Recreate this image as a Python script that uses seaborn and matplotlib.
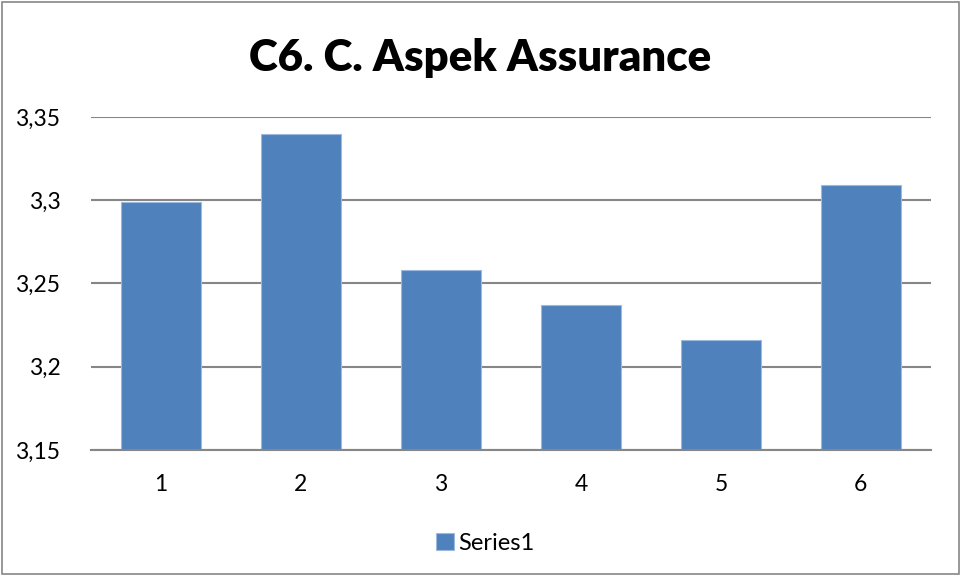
import matplotlib.pyplot as plt
import seaborn as sns
import pandas as pd
from matplotlib.ticker import FuncFormatter, MultipleLocator
from matplotlib.patches import Rectangle

categories = ['1', '2', '3', '4', '5', '6']
values = [3.299, 3.340, 3.258, 3.237, 3.216, 3.309]
series_name = 'Series1'
title = 'C6. C. Aspek Assurance'

sns.set_theme(style="white")
plt.rcParams['font.family'] = ['Lato', 'DejaVu Sans']
plt.rcParams['text.color'] = 'black'

df = pd.DataFrame({'Kategori': categories, 'Nilai': values})

fig = plt.figure(figsize=(9.61, 5.76), dpi=100)
ax = fig.add_axes([0.0947, 0.2188, 0.874, 0.5782])

sns.barplot(
    data=df, x='Kategori', y='Nilai', ax=ax,
    color='#4F81BD', saturation=1, width=0.57,
    edgecolor='#9DB9DD', linewidth=0.8, label=series_name
)

ax.set_ylim(3.15, 3.35)
ax.yaxis.set_major_locator(MultipleLocator(0.05))
ax.yaxis.set_major_formatter(FuncFormatter(lambda v, p: f'{v:g}'.replace('.', ',')))
ax.grid(axis='y', color='#868686', linewidth=1.5)
ax.set_axisbelow(True)
for side in ['left', 'right', 'top']:
    ax.spines[side].set_visible(False)
ax.spines['bottom'].set_color('#868686')
ax.spines['bottom'].set_linewidth(1.5)
ax.tick_params(axis='both', length=0, labelsize=16.5, labelcolor='black')
ax.tick_params(axis='y', pad=22)
ax.tick_params(axis='x', pad=17)
ax.set_xlabel('')
ax.set_ylabel('')

fig.text(0.5, 0.90, title, ha='center', va='center', fontsize=31.5,
         fontweight='heavy', color='black')

leg = ax.legend(loc='center', frameon=False, fontsize=17, handlelength=0.75,
                handleheight=0.75, handletextpad=0.2, labelcolor='black')
leg.set_bbox_to_anchor((0.505, 1 - 543 / 576), transform=fig.transFigure)

fig.patches.append(Rectangle((0.002, 0.003), 0.996, 0.994, transform=fig.transFigure,
                             fill=False, edgecolor='#868686', linewidth=1.2))

fig.savefig('out.png', dpi=100)
